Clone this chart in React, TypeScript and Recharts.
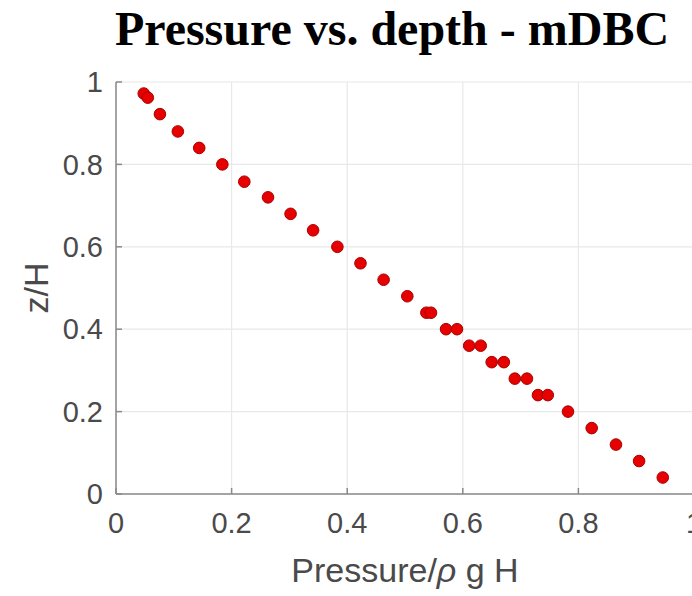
import { ScatterChart, Scatter, XAxis, YAxis, CartesianGrid, Label } from "recharts";

// pressure/(rho g H) against z/H
const pressure = [
  0.048, 0.055, 0.076, 0.107, 0.144, 0.184, 0.222, 0.263, 0.302, 0.341, 0.383, 0.423, 0.463, 0.504,
  0.537, 0.545, 0.571, 0.59, 0.611, 0.631, 0.65, 0.671, 0.69, 0.711, 0.73, 0.747,
  0.782, 0.823, 0.865, 0.905, 0.946,
];
const depth = [
  0.972, 0.962, 0.922, 0.88, 0.84, 0.8, 0.758, 0.72, 0.68, 0.64, 0.6, 0.56, 0.52, 0.48,
  0.44, 0.44, 0.4, 0.4, 0.36, 0.36, 0.32, 0.32, 0.28, 0.28, 0.24, 0.24,
  0.2, 0.16, 0.12, 0.08, 0.04,
];
const xTicks = [0, 0.2, 0.4, 0.6, 0.8, 1];
const yTicks = [0, 0.2, 0.4, 0.6, 0.8, 1];

const points = pressure.map((p, i) => ({ p, z: depth[i] }));

const font = "Liberation Sans, Arial, sans-serif";
const tickStyle = { fill: "#4a4a4a", fontSize: 29, fontFamily: font };

const Dot = (props: any) => (
  <circle cx={props.cx} cy={props.cy} r={5.8} fill="#e60000" stroke="#a80000" strokeWidth={1} />
);

const XLab = (props: any) => {
  const vb = props.viewBox;
  return (
    <text x={vb.x + vb.width / 2} y={vb.y + 88} textAnchor="middle" fill="#4a4a4a" fontSize={34} fontFamily={font}>
      Pressure/<tspan fontStyle="italic">ρ</tspan> g H
    </text>
  );
};

const YLab = (props: any) => {
  const vb = props.viewBox;
  const cx = vb.x + 36;
  const cy = vb.y + vb.height / 2;
  return (
    <text x={cx} y={cy} transform={`rotate(-90, ${cx}, ${cy})`} textAnchor="middle" dominantBaseline="central"
      fill="#4a4a4a" fontSize={34} fontFamily={font}>
      z/H
    </text>
  );
};

export default function App() {
  return (
    <div style={{ position: "absolute", left: 0, top: 0, width: 692, height: 596, overflow: "hidden", background: "#fff" }}>
      <div style={{ position: "absolute", left: 0, width: 784, top: 3, textAlign: "center", fontFamily: "Liberation Serif, Times New Roman, serif",
        fontWeight: "bold", fontSize: 48, color: "#000", lineHeight: "52px" }}>
        Pressure vs. depth - mDBC
      </div>
      <ScatterChart width={720} height={596} margin={{ top: 82, right: 26, bottom: 0, left: 0 }}>
        <CartesianGrid stroke="#e8e8e8" strokeWidth={1.2} />
        <XAxis type="number" dataKey="p" domain={[0, 1]} ticks={xTicks} height={102}
          tick={tickStyle} tickSize={-6} tickMargin={24} stroke="#8a8a8a" strokeWidth={1.5}
          tickFormatter={(v: number) => String(v)}>
          <Label content={XLab} />
        </XAxis>
        <YAxis type="number" dataKey="z" domain={[0, 1]} ticks={yTicks} width={116}
          tick={tickStyle} tickSize={-6} tickMargin={19} stroke="#8a8a8a" strokeWidth={1.5}
          tickFormatter={(v: number) => String(v)}>
          <Label content={YLab} />
        </YAxis>
        <Scatter data={points} shape={Dot} isAnimationActive={false} />
      </ScatterChart>
    </div>
  );
}
